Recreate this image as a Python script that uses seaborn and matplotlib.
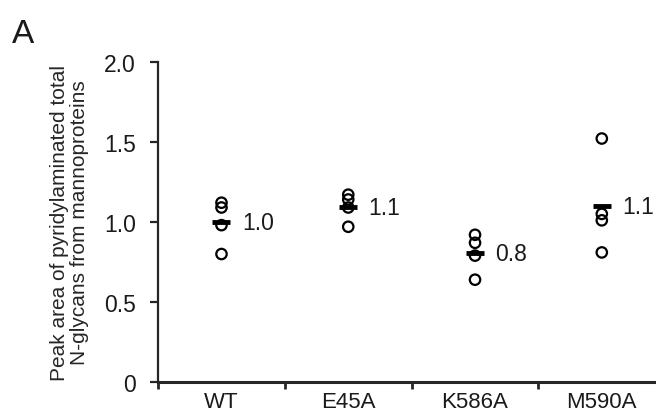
import numpy as np
import pandas as pd
import matplotlib
matplotlib.use("Agg")
import matplotlib.pyplot as plt
import seaborn as sns

strains = ["WT", "E45A", "K586A", "M590A"]
wt_vals = [1.12, 1.09, 0.98, 0.80]
e45a_vals = [1.17, 1.14, 1.09, 0.97]
k586a_vals = [0.92, 0.87, 0.79, 0.64]
m590a_vals = [1.52, 1.05, 1.01, 0.81]

df = pd.DataFrame({
    "strain": np.repeat(strains, 4),
    "value": wt_vals + e45a_vals + k586a_vals + m590a_vals,
})
means = df.groupby("strain", sort=False)["value"].mean()

sns.set_style("ticks")
plt.rcParams["font.family"] = ["Liberation Sans", "DejaVu Sans"]
plt.rcParams["text.color"] = "#1a1a1a"

fig = plt.figure(figsize=(6.56, 4.14), dpi=100)
ax = fig.add_axes([0.241, 0.074, 0.773, 0.775])

sns.stripplot(data=df, x="strain", y="value", order=strains, jitter=False,
              color="white", edgecolor="black", linewidth=1.6, size=7.5, ax=ax)
for c in ax.collections:
    c.set_facecolor("none")

sns.pointplot(data=df, x="strain", y="value", order=strains, errorbar=None,
              estimator="mean", linestyle="none", marker="_", color="black",
              markersize=13, markeredgewidth=3.5, ax=ax)

for i, s in enumerate(strains):
    ax.text(i + 0.16, means[s], f"{means[s]:.1f}", fontsize=16.5,
            va="center", ha="left")

ax.set_xlim(-0.5, 3.5)
ax.set_ylim(0, 2.0)
ax.set_yticks([0, 0.5, 1.0, 1.5, 2.0])
ax.set_yticklabels(["0", "0.5", "1.0", "1.5", "2.0"])
ax.set_xticks([0, 1, 2, 3])
ax.set_xticklabels(strains)
ax.set_xticks([-0.5, 0.5, 1.5, 2.5], minor=True)
ax.tick_params(axis="x", which="major", length=0, labelsize=16, pad=6,
               labelcolor="#1a1a1a")
ax.tick_params(axis="x", which="minor", length=5, width=2, direction="out")
ax.tick_params(axis="y", length=6, width=1.6, labelsize=16.5, direction="out",
               pad=10, labelcolor="#1a1a1a")
ax.set_xlabel("")
ax.set_ylabel("Peak area of pyridylaminated total\nN-glycans from mannoproteins",
              fontsize=15, labelpad=11, linespacing=1.05)

sns.despine(ax=ax)
ax.spines["left"].set_linewidth(1.6)
ax.spines["bottom"].set_linewidth(2.2)

fig.text(0.018, 0.896, "A", fontsize=24)

fig.savefig("out.png", dpi=100)
